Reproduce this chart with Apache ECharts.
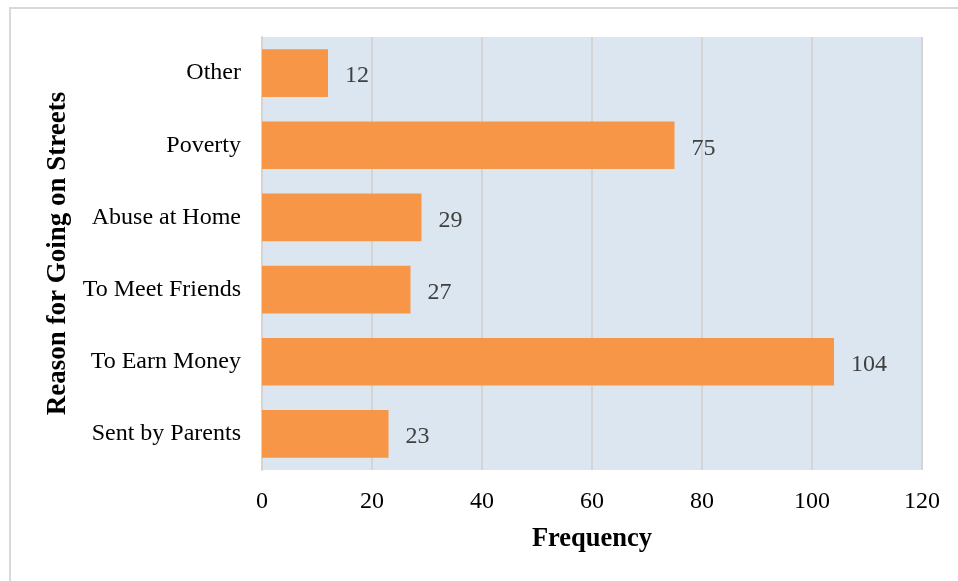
<!DOCTYPE html>
<html><head><meta charset="utf-8">
<script src="https://cdn.jsdelivr.net/npm/echarts@6/dist/echarts.min.js"></script>
<style>html,body{margin:0;padding:0;background:#fff;}#c{width:958px;height:581px;}</style>
</head><body><div id="c"></div>
<script>
const categories = ["Sent by Parents", "To Earn Money", "To Meet Friends", "Abuse at Home", "Poverty", "Other"];
const values = [23, 104, 27, 29, 75, 12];
const xTicks = [0, 20, 40, 60, 80, 100, 120];

const chart = echarts.init(document.getElementById('c'), null, {renderer: 'canvas'});
const font = "'Liberation Serif', 'Times New Roman', serif";
chart.setOption({
  animation: false,
  grid: {left: 262, right: 36, top: 37, bottom: 111, show: true, backgroundColor: '#dce6f1', borderWidth: 0},
  xAxis: {
    type: 'value', min: xTicks[0], max: xTicks[xTicks.length-1], interval: 20,
    name: 'Frequency', nameLocation: 'middle', nameGap: 56,
    nameTextStyle: {fontFamily: font, fontSize: 26.5, fontWeight: 'bold', color: '#000'},
    axisLine: {show: false}, axisTick: {show: false},
    axisLabel: {fontFamily: font, fontSize: 24, color: '#000', margin: 20},
    splitLine: {show: true, lineStyle: {color: '#d4d4d4', width: 2}}
  },
  yAxis: {
    type: 'category', data: categories,
    name: 'Reason for Going on Streets', nameLocation: 'middle', nameGap: 182,
    nameTextStyle: {fontFamily: font, fontSize: 27, fontWeight: 'bold', color: '#000'},
    axisLine: {show: true, lineStyle: {color: '#d4d4d4', width: 2}}, axisTick: {show: false},
    axisLabel: {fontFamily: font, fontSize: 24, color: '#000', margin: 21, padding: [3, 0, 0, 0]},
    splitLine: {show: false}
  },
  series: [{
    type: 'bar', data: values, barWidth: '66%',
    itemStyle: {color: '#f79646'},
    label: {show: true, position: 'right', distance: 17, offset: [0, 3], fontFamily: font, fontSize: 24, color: '#404040'}
  }],
  graphic: [
    {type: 'line', shape: {x1: 9, y1: 8, x2: 958, y2: 8}, style: {stroke: '#d9d9d9', lineWidth: 2}},
    {type: 'line', shape: {x1: 10, y1: 7, x2: 10, y2: 581}, style: {stroke: '#d9d9d9', lineWidth: 2}}
  ]
});
</script></body></html>
